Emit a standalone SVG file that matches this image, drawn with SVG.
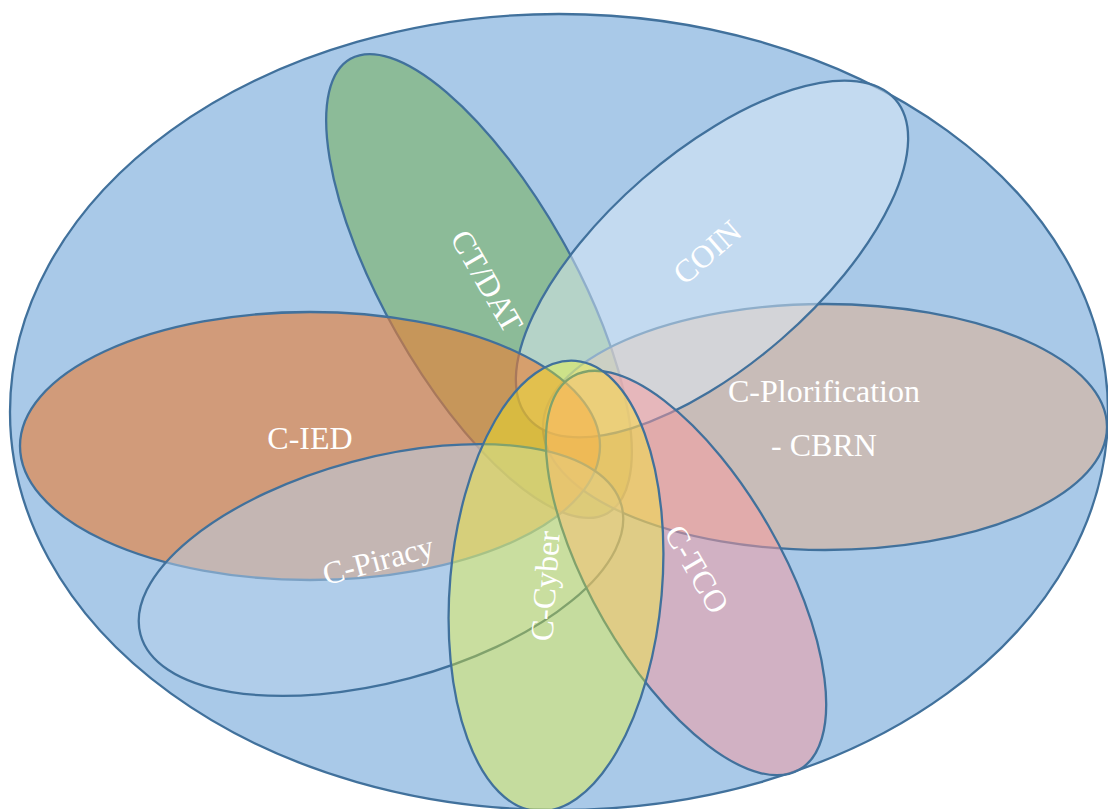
<svg xmlns="http://www.w3.org/2000/svg" width="1108" height="809" viewBox="0 0 1108 809">
  <style>
    .shape { stroke: #41719C; stroke-width: 2.3; }
    .lbl { font-family: "Liberation Serif", "Times New Roman", serif; font-size: 32px; fill: #FFFFFF; text-anchor: middle; }
  </style>
  <rect width="1108" height="809" fill="#FFFFFF"/>

  <!-- outer domain -->
  <g id="domain">
    <ellipse class="shape" cx="559" cy="412" rx="549" ry="398" fill="#A9C9E8"/>
  </g>

  <!-- overlapping mission areas, bottom to top -->
  <g id="ct-dat">
    <ellipse class="shape" cx="0" cy="0" rx="95" ry="261" fill="#70AD47" fill-opacity="0.5" transform="translate(479,286) rotate(-29.5)"/>
    <text class="lbl" x="0" y="11" transform="translate(487,281) rotate(60)">CT/DAT</text>
  </g>

  <g id="c-plorification">
    <ellipse class="shape" cx="825" cy="427" rx="282" ry="123" fill="#E7AF88" fill-opacity="0.5"/>
    <text class="lbl" x="824" y="402">C-Plorification</text>
    <text class="lbl" x="824" y="456">- CBRN</text>
  </g>

  <g id="coin">
    <ellipse class="shape" cx="0" cy="0" rx="243" ry="106" fill="#DEEBF7" fill-opacity="0.5" transform="translate(712,259) rotate(-41)"/>
    <text class="lbl" x="0" y="11" transform="translate(707,252) rotate(-41)">COIN</text>
  </g>

  <g id="c-ied">
    <ellipse class="shape" cx="310" cy="446" rx="290" ry="134" fill="#ED7D31" fill-opacity="0.6"/>
    <text class="lbl" x="310" y="449">C-IED</text>
  </g>

  <g id="c-piracy">
    <ellipse class="shape" cx="0" cy="0" rx="249" ry="112" fill="#B7D1EC" fill-opacity="0.5" transform="translate(381,570) rotate(-15)"/>
    <text class="lbl" x="0" y="11" transform="translate(378,560) rotate(-15)">C-Piracy</text>
  </g>

  <g id="c-tco">
    <ellipse class="shape" cx="0" cy="0" rx="95" ry="227" fill="#F99A9E" fill-opacity="0.5" transform="translate(686,573) rotate(-30)"/>
    <text class="lbl" x="0" y="11" transform="translate(697,569) rotate(60)">C-TCO</text>
  </g>

  <g id="c-cyber">
    <ellipse class="shape" cx="0" cy="0" rx="106" ry="226" fill="#FAFF14" fill-opacity="0.35" transform="translate(556,586) rotate(5)"/>
    <text class="lbl" x="0" y="11" transform="translate(545,586) rotate(-86)">C-Cyber</text>
  </g>
</svg>
